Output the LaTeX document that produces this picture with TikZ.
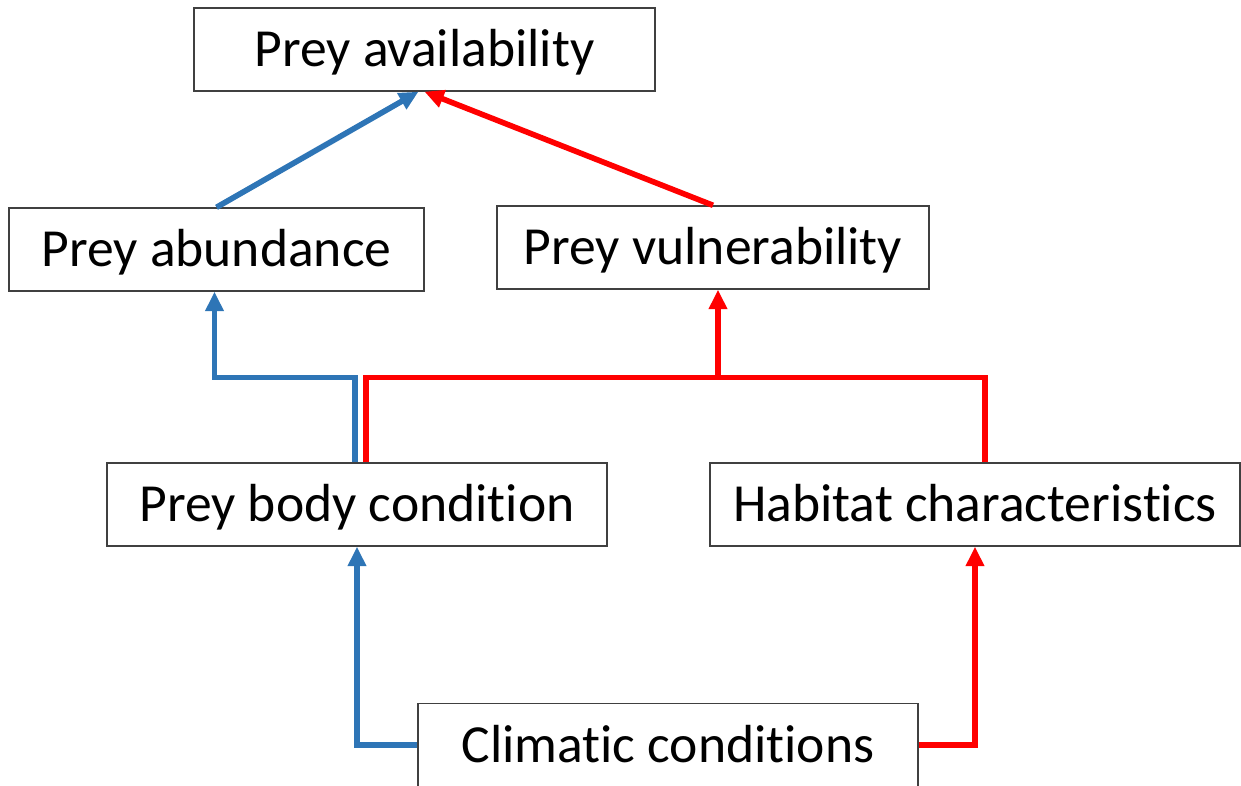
\documentclass[tikz,border=0pt]{standalone}
\usepackage{fontspec}
\setmainfont[Ligatures=NoCommon]{Carlito}
\usetikzlibrary{arrows.meta,positioning,calc}
\definecolor{BLUE}{HTML}{2E75B6}
\definecolor{RED}{HTML}{FF0000}

\begin{document}
\begin{tikzpicture}[x=0.02cm,y=-0.02cm]
\tikzstyle{factor}=[draw=black!75,line width=0.8pt,fill=white,minimum height=1.66cm,
  inner sep=0pt,text height=19.6pt,text depth=0pt,font=\fontsize{30.5}{36}\selectfont]
\tikzstyle{myEdge}=[line width=3.2pt,>={Triangle[length=11pt,width=10pt]}]
\tikzstyle{blueEdge}=[myEdge,draw=BLUE]
\tikzstyle{redEdge}=[myEdge,draw=RED]

\useasboundingbox (0,0) rectangle (1241,785);

% boxes
\node[factor,minimum width=9.22cm] (preyAvail) at (424.5,49.5) {Prey availability};
\node[factor,minimum width=8.3cm] (preyAbund) at (216.5,249.5) {Prey abundance};
\node[factor,minimum width=8.64cm] (preyVuln) at (713,247.5) {Prey vulnerability};
\node[factor,minimum width=10cm] (bodyCond) at (357,504.5) {Prey body condition};
\node[factor,minimum width=10.6cm] (habitat) at (975,504.5) {Habitat characteristics};
\node[factor,minimum width=10cm] (climate) at (668,745) {Climatic conditions};

% top level
\draw[blueEdge,->] (preyAbund.north) -- ($(preyAvail.south)+(-6,0)$);
\draw[redEdge,->] (preyVuln.north) -- (preyAvail.south);

% middle level
\coordinate (blueBus) at ($(bodyCond.north)+(-2,-85)$);
\coordinate (redBus) at ($(bodyCond.north)+(9,-85)$);
\coordinate (vulnIn) at ($(preyVuln.south)+(5,0)$);
\draw[blueEdge,->] ($(bodyCond.north)+(-2,0)$) -- (blueBus) -| ($(preyAbund.south)+(-2,0)$);
\draw[redEdge] ($(bodyCond.north)+(9,0)$) -- (redBus) -| ($(habitat.north)+(10,0)$);
\draw[redEdge,->] (redBus -| vulnIn) -- (vulnIn);

% bottom level
\draw[blueEdge,->] (climate.west) -| (bodyCond.south);
\draw[redEdge,->] (climate.east) -| (habitat.south);
\end{tikzpicture}
\end{document}
